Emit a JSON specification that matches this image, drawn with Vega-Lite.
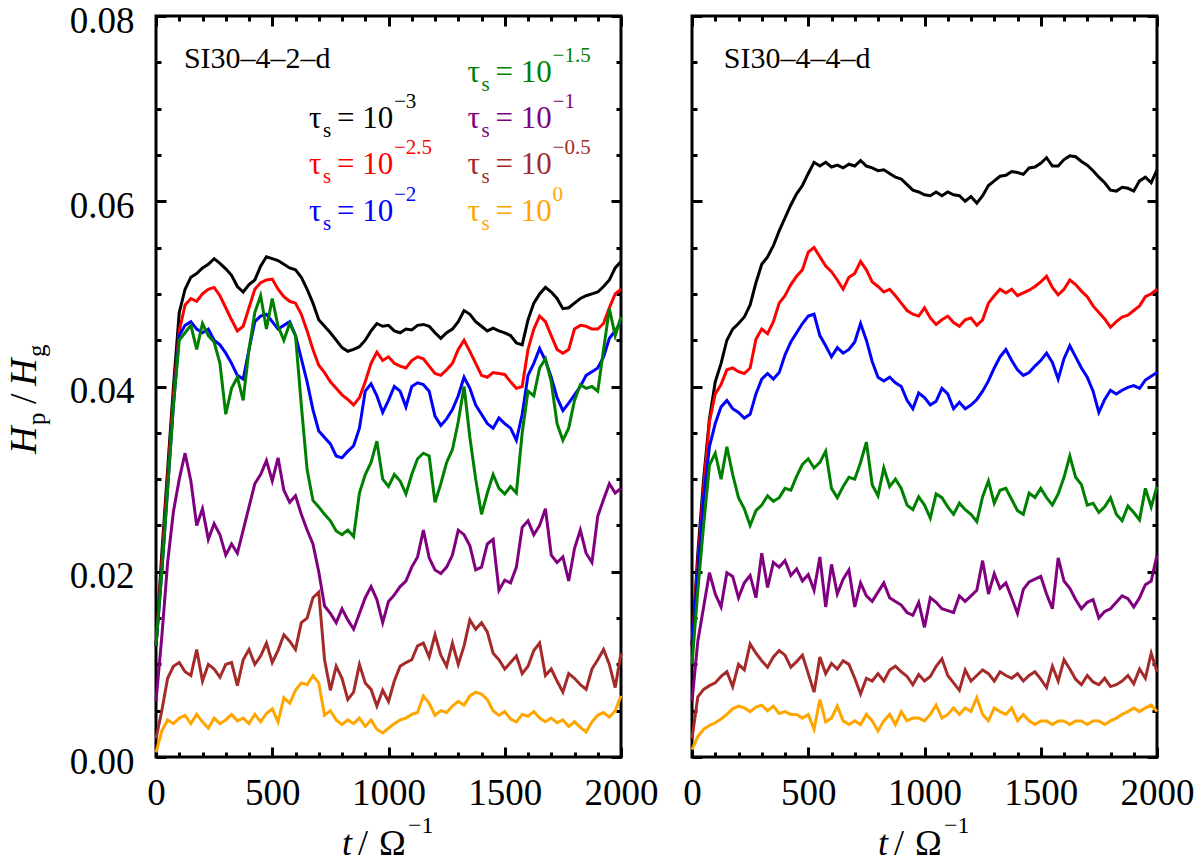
{
  "$schema": "https://vega.github.io/schema/vega-lite/v6.json",
  "description": "Particle scale height Hp/Hg versus time for two runs",
  "padding": {"left": 4, "top": 0, "right": 5, "bottom": 0},
  "background": "white",
  "config": {
    "view": {"stroke": "black", "strokeWidth": 3},
    "font": "Liberation Serif",
    "style": {"guide-label": {"font": "Liberation Serif", "fontSize": 37, "fill": "black"}},
    "axis": {
      "grid": false, "domain": false,
      "labelFont": "Liberation Serif", "labelFontSize": 37, "labelColor": "black",
      "tickColor": "black", "tickWidth": 3,
      "labelFlush": false, "labelOverlap": false
    },
    "text": {"font": "Liberation Serif", "color": "black"}
  },
  "datasets": {
    "L": [
      {"t":0,"a":0.012,"b":0.012,"c":0.012,"d":0.012,"e":0.006,"f":0.002,"g":0.0005},
      {"t":25,"a":0.022,"b":0.021,"c":0.020,"d":0.020,"e":0.013,"f":0.005,"g":0.0028},
      {"t":50,"a":0.031,"b":0.030,"c":0.029,"d":0.029,"e":0.021,"f":0.0085,"g":0.0040},
      {"t":75,"a":0.040,"b":0.039,"c":0.038,"d":0.038,"e":0.0265,"f":0.0098,"g":0.0036},
      {"t":100,"a":0.048,"b":0.046,"c":0.0455,"d":0.0450,"e":0.0300,"f":0.0102,"g":0.0042},
      {"t":125,"a":0.0505,"b":0.0488,"c":0.0466,"d":0.0458,"e":0.0328,"f":0.0092,"g":0.0045},
      {"t":150,"a":0.0518,"b":0.0495,"c":0.0470,"d":0.0466,"e":0.0298,"f":0.0088,"g":0.0036},
      {"t":175,"a":0.0522,"b":0.0492,"c":0.0462,"d":0.0440,"e":0.0250,"f":0.0116,"g":0.0046},
      {"t":200,"a":0.0528,"b":0.0500,"c":0.0458,"d":0.0468,"e":0.0268,"f":0.0082,"g":0.0038},
      {"t":225,"a":0.0532,"b":0.0505,"c":0.0462,"d":0.0455,"e":0.0235,"f":0.0100,"g":0.0031},
      {"t":250,"a":0.0538,"b":0.0507,"c":0.0450,"d":0.0448,"e":0.0252,"f":0.0095,"g":0.0042},
      {"t":275,"a":0.0533,"b":0.0498,"c":0.0445,"d":0.0425,"e":0.0240,"f":0.0086,"g":0.0036},
      {"t":300,"a":0.0527,"b":0.0485,"c":0.0436,"d":0.0370,"e":0.0218,"f":0.0100,"g":0.0040},
      {"t":325,"a":0.0520,"b":0.0472,"c":0.0425,"d":0.0398,"e":0.0230,"f":0.0102,"g":0.0046},
      {"t":350,"a":0.0508,"b":0.0460,"c":0.0412,"d":0.0410,"e":0.0220,"f":0.0077,"g":0.0039},
      {"t":375,"a":0.0502,"b":0.0465,"c":0.0408,"d":0.0385,"e":0.0245,"f":0.0105,"g":0.0042},
      {"t":400,"a":0.0510,"b":0.0485,"c":0.0440,"d":0.0440,"e":0.0270,"f":0.0116,"g":0.0036},
      {"t":425,"a":0.0515,"b":0.0505,"c":0.0470,"d":0.0480,"e":0.0295,"f":0.0100,"g":0.0046},
      {"t":450,"a":0.0530,"b":0.0512,"c":0.0476,"d":0.0498,"e":0.0305,"f":0.0109,"g":0.0038},
      {"t":475,"a":0.0540,"b":0.0515,"c":0.0478,"d":0.0462,"e":0.0320,"f":0.0123,"g":0.0047},
      {"t":500,"a":0.0538,"b":0.0516,"c":0.0470,"d":0.0495,"e":0.0298,"f":0.0102,"g":0.0052},
      {"t":525,"a":0.0536,"b":0.0505,"c":0.0462,"d":0.0465,"e":0.0323,"f":0.0115,"g":0.0038},
      {"t":550,"a":0.0532,"b":0.0497,"c":0.0466,"d":0.0450,"e":0.0288,"f":0.0132,"g":0.0064},
      {"t":575,"a":0.0528,"b":0.0492,"c":0.0470,"d":0.0468,"e":0.0275,"f":0.0125,"g":0.0058},
      {"t":600,"a":0.0526,"b":0.0490,"c":0.0455,"d":0.0455,"e":0.0282,"f":0.0116,"g":0.0072},
      {"t":625,"a":0.0518,"b":0.0478,"c":0.0430,"d":0.0380,"e":0.0262,"f":0.0145,"g":0.0080},
      {"t":650,"a":0.0505,"b":0.0460,"c":0.0405,"d":0.0310,"e":0.0245,"f":0.0150,"g":0.0078},
      {"t":675,"a":0.0490,"b":0.0440,"c":0.0375,"d":0.0277,"e":0.0230,"f":0.0172,"g":0.0088},
      {"t":700,"a":0.0472,"b":0.0423,"c":0.0352,"d":0.0270,"e":0.0200,"f":0.0178,"g":0.0080},
      {"t":725,"a":0.0465,"b":0.0415,"c":0.0345,"d":0.0262,"e":0.0163,"f":0.0105,"g":0.0045},
      {"t":750,"a":0.0458,"b":0.0405,"c":0.0338,"d":0.0255,"e":0.0155,"f":0.0072,"g":0.0050},
      {"t":775,"a":0.0450,"b":0.0398,"c":0.0325,"d":0.0244,"e":0.0145,"f":0.0098,"g":0.0040},
      {"t":800,"a":0.0442,"b":0.0391,"c":0.0323,"d":0.0240,"e":0.0160,"f":0.0085,"g":0.0035},
      {"t":825,"a":0.0438,"b":0.0386,"c":0.0330,"d":0.0245,"e":0.0148,"f":0.0062,"g":0.0040},
      {"t":850,"a":0.0440,"b":0.0380,"c":0.0336,"d":0.0238,"e":0.0138,"f":0.0070,"g":0.0036},
      {"t":875,"a":0.0443,"b":0.0388,"c":0.0355,"d":0.0285,"e":0.0155,"f":0.0100,"g":0.0042},
      {"t":900,"a":0.0450,"b":0.0405,"c":0.0395,"d":0.0305,"e":0.0172,"f":0.0080,"g":0.0033},
      {"t":925,"a":0.0460,"b":0.0425,"c":0.0403,"d":0.0318,"e":0.0184,"f":0.0073,"g":0.0040},
      {"t":950,"a":0.0468,"b":0.0437,"c":0.0390,"d":0.0341,"e":0.0170,"f":0.0055,"g":0.0030},
      {"t":975,"a":0.0465,"b":0.0428,"c":0.0372,"d":0.0300,"e":0.0145,"f":0.0072,"g":0.0026},
      {"t":1000,"a":0.0466,"b":0.0432,"c":0.0385,"d":0.0292,"e":0.0168,"f":0.0060,"g":0.0031},
      {"t":1025,"a":0.0460,"b":0.0425,"c":0.0400,"d":0.0305,"e":0.0175,"f":0.0082,"g":0.0036},
      {"t":1050,"a":0.0458,"b":0.0422,"c":0.0395,"d":0.0298,"e":0.0184,"f":0.0098,"g":0.0040},
      {"t":1075,"a":0.0462,"b":0.0420,"c":0.0378,"d":0.0284,"e":0.0190,"f":0.0102,"g":0.0042},
      {"t":1100,"a":0.0461,"b":0.0428,"c":0.0400,"d":0.0305,"e":0.0205,"f":0.0105,"g":0.0046},
      {"t":1125,"a":0.0466,"b":0.0432,"c":0.0404,"d":0.0322,"e":0.0216,"f":0.0120,"g":0.0048},
      {"t":1150,"a":0.0467,"b":0.0430,"c":0.0402,"d":0.0328,"e":0.0245,"f":0.0123,"g":0.0066},
      {"t":1175,"a":0.0465,"b":0.0422,"c":0.0395,"d":0.0325,"e":0.0215,"f":0.0108,"g":0.0058},
      {"t":1200,"a":0.0458,"b":0.0414,"c":0.0368,"d":0.0275,"e":0.0202,"f":0.0132,"g":0.0045},
      {"t":1225,"a":0.0452,"b":0.0412,"c":0.0358,"d":0.0295,"e":0.0198,"f":0.0110,"g":0.0050},
      {"t":1250,"a":0.0458,"b":0.0418,"c":0.0365,"d":0.0318,"e":0.0205,"f":0.0098,"g":0.0048},
      {"t":1275,"a":0.0462,"b":0.0425,"c":0.0375,"d":0.0332,"e":0.0218,"f":0.0123,"g":0.0055},
      {"t":1300,"a":0.0470,"b":0.0440,"c":0.0390,"d":0.0362,"e":0.0245,"f":0.0100,"g":0.0060},
      {"t":1325,"a":0.0482,"b":0.0450,"c":0.0410,"d":0.0400,"e":0.0240,"f":0.0120,"g":0.0056},
      {"t":1350,"a":0.0478,"b":0.0438,"c":0.0398,"d":0.0345,"e":0.0228,"f":0.0148,"g":0.0066},
      {"t":1375,"a":0.0470,"b":0.0425,"c":0.0380,"d":0.0300,"e":0.0202,"f":0.0138,"g":0.0070},
      {"t":1400,"a":0.0465,"b":0.0412,"c":0.0370,"d":0.0262,"e":0.0205,"f":0.0145,"g":0.0068},
      {"t":1425,"a":0.0460,"b":0.0410,"c":0.0360,"d":0.0285,"e":0.0230,"f":0.0135,"g":0.0062},
      {"t":1450,"a":0.0463,"b":0.0415,"c":0.0355,"d":0.0305,"e":0.0235,"f":0.0112,"g":0.0050},
      {"t":1475,"a":0.0460,"b":0.0414,"c":0.0366,"d":0.0290,"e":0.0180,"f":0.0105,"g":0.0045},
      {"t":1500,"a":0.0458,"b":0.0413,"c":0.0360,"d":0.0284,"e":0.0191,"f":0.0095,"g":0.0049},
      {"t":1525,"a":0.0455,"b":0.0405,"c":0.0355,"d":0.0292,"e":0.0188,"f":0.0102,"g":0.0041},
      {"t":1550,"a":0.0447,"b":0.0398,"c":0.0342,"d":0.0285,"e":0.0205,"f":0.0109,"g":0.0038},
      {"t":1575,"a":0.0445,"b":0.0400,"c":0.0370,"d":0.0350,"e":0.0248,"f":0.0090,"g":0.0046},
      {"t":1600,"a":0.0472,"b":0.0440,"c":0.0412,"d":0.0395,"e":0.0255,"f":0.0098,"g":0.0044},
      {"t":1625,"a":0.0490,"b":0.0462,"c":0.0425,"d":0.0390,"e":0.0240,"f":0.0115,"g":0.0049},
      {"t":1650,"a":0.0500,"b":0.0476,"c":0.0441,"d":0.0420,"e":0.0250,"f":0.0123,"g":0.0042},
      {"t":1675,"a":0.0507,"b":0.0470,"c":0.0428,"d":0.0430,"e":0.0268,"f":0.0088,"g":0.0038},
      {"t":1700,"a":0.0502,"b":0.0455,"c":0.0410,"d":0.0405,"e":0.0218,"f":0.0095,"g":0.0042},
      {"t":1725,"a":0.0495,"b":0.0440,"c":0.0388,"d":0.0360,"e":0.0210,"f":0.0082,"g":0.0037},
      {"t":1750,"a":0.0484,"b":0.0436,"c":0.0374,"d":0.0342,"e":0.0216,"f":0.0070,"g":0.0040},
      {"t":1775,"a":0.0485,"b":0.0440,"c":0.0382,"d":0.0355,"e":0.0190,"f":0.0090,"g":0.0033},
      {"t":1800,"a":0.0490,"b":0.0462,"c":0.0391,"d":0.0385,"e":0.0225,"f":0.0085,"g":0.0038},
      {"t":1825,"a":0.0495,"b":0.0466,"c":0.0400,"d":0.0402,"e":0.0245,"f":0.0078,"g":0.0032},
      {"t":1850,"a":0.0498,"b":0.0465,"c":0.0412,"d":0.0398,"e":0.0220,"f":0.0073,"g":0.0027},
      {"t":1875,"a":0.0500,"b":0.0462,"c":0.0416,"d":0.0400,"e":0.0210,"f":0.0095,"g":0.0038},
      {"t":1900,"a":0.0502,"b":0.0462,"c":0.0420,"d":0.0395,"e":0.0260,"f":0.0105,"g":0.0045},
      {"t":1925,"a":0.0508,"b":0.0468,"c":0.0432,"d":0.0440,"e":0.0278,"f":0.0116,"g":0.0048},
      {"t":1950,"a":0.0515,"b":0.0485,"c":0.0452,"d":0.0484,"e":0.0295,"f":0.0100,"g":0.0043},
      {"t":1975,"a":0.0528,"b":0.0500,"c":0.0460,"d":0.0455,"e":0.0285,"f":0.0075,"g":0.0050},
      {"t":2000,"a":0.0535,"b":0.0505,"c":0.0470,"d":0.0475,"e":0.0290,"f":0.0112,"g":0.0066}
    ],
    "R": [
      {"t":0,"a":0.012,"b":0.012,"c":0.012,"d":0.010,"e":0.006,"f":0.002,"g":0.0008},
      {"t":25,"a":0.022,"b":0.021,"c":0.020,"d":0.018,"e":0.0125,"f":0.0065,"g":0.0022},
      {"t":50,"a":0.030,"b":0.029,"c":0.028,"d":0.025,"e":0.0162,"f":0.0073,"g":0.0030},
      {"t":75,"a":0.0365,"b":0.0362,"c":0.0335,"d":0.0315,"e":0.0199,"f":0.0077,"g":0.0034},
      {"t":100,"a":0.0405,"b":0.0392,"c":0.0360,"d":0.0328,"e":0.0176,"f":0.0080,"g":0.0037},
      {"t":125,"a":0.0425,"b":0.0402,"c":0.0378,"d":0.0300,"e":0.0162,"f":0.0087,"g":0.0041},
      {"t":150,"a":0.0450,"b":0.0418,"c":0.0385,"d":0.0335,"e":0.0199,"f":0.0092,"g":0.0046},
      {"t":175,"a":0.0462,"b":0.0420,"c":0.0376,"d":0.0305,"e":0.0195,"f":0.0076,"g":0.0052},
      {"t":200,"a":0.0468,"b":0.0416,"c":0.0372,"d":0.0280,"e":0.0172,"f":0.0100,"g":0.0055},
      {"t":225,"a":0.0475,"b":0.0414,"c":0.0366,"d":0.0268,"e":0.0188,"f":0.0094,"g":0.0053},
      {"t":250,"a":0.0488,"b":0.0420,"c":0.0370,"d":0.0250,"e":0.0196,"f":0.0122,"g":0.0049},
      {"t":275,"a":0.0512,"b":0.0451,"c":0.0392,"d":0.0266,"e":0.0172,"f":0.0112,"g":0.0054},
      {"t":300,"a":0.0532,"b":0.0462,"c":0.0408,"d":0.0272,"e":0.0220,"f":0.0104,"g":0.0056},
      {"t":325,"a":0.0540,"b":0.0457,"c":0.0414,"d":0.0282,"e":0.0183,"f":0.0097,"g":0.0050},
      {"t":350,"a":0.0552,"b":0.0470,"c":0.0408,"d":0.0276,"e":0.0210,"f":0.0108,"g":0.0055},
      {"t":375,"a":0.0568,"b":0.0490,"c":0.0415,"d":0.0280,"e":0.0205,"f":0.0115,"g":0.0047},
      {"t":400,"a":0.0582,"b":0.0498,"c":0.0434,"d":0.0290,"e":0.0212,"f":0.0110,"g":0.0049},
      {"t":425,"a":0.0596,"b":0.0510,"c":0.0448,"d":0.0288,"e":0.0196,"f":0.0097,"g":0.0046},
      {"t":450,"a":0.0608,"b":0.0519,"c":0.0458,"d":0.0303,"e":0.0203,"f":0.0103,"g":0.0046},
      {"t":475,"a":0.0617,"b":0.0526,"c":0.0468,"d":0.0316,"e":0.0190,"f":0.0110,"g":0.0042},
      {"t":500,"a":0.0630,"b":0.0545,"c":0.0476,"d":0.0322,"e":0.0197,"f":0.0090,"g":0.0046},
      {"t":525,"a":0.0642,"b":0.0550,"c":0.0478,"d":0.0312,"e":0.0180,"f":0.0070,"g":0.0030},
      {"t":550,"a":0.0638,"b":0.0540,"c":0.0455,"d":0.0318,"e":0.0216,"f":0.0108,"g":0.0062},
      {"t":575,"a":0.0642,"b":0.0530,"c":0.0444,"d":0.0330,"e":0.0162,"f":0.0090,"g":0.0038},
      {"t":600,"a":0.0637,"b":0.0524,"c":0.0432,"d":0.0290,"e":0.0208,"f":0.0101,"g":0.0042},
      {"t":625,"a":0.0639,"b":0.0515,"c":0.0442,"d":0.0280,"e":0.0176,"f":0.0095,"g":0.0055},
      {"t":650,"a":0.0636,"b":0.0505,"c":0.0436,"d":0.0292,"e":0.0192,"f":0.0104,"g":0.0039},
      {"t":675,"a":0.0640,"b":0.0518,"c":0.0440,"d":0.0302,"e":0.0202,"f":0.0100,"g":0.0035},
      {"t":700,"a":0.0638,"b":0.0522,"c":0.0448,"d":0.0300,"e":0.0162,"f":0.0085,"g":0.0039},
      {"t":725,"a":0.0644,"b":0.0535,"c":0.0468,"d":0.0318,"e":0.0188,"f":0.0068,"g":0.0035},
      {"t":750,"a":0.0638,"b":0.0526,"c":0.0450,"d":0.0340,"e":0.0174,"f":0.0085,"g":0.0046},
      {"t":775,"a":0.0636,"b":0.0513,"c":0.0427,"d":0.0294,"e":0.0168,"f":0.0082,"g":0.0039},
      {"t":800,"a":0.0633,"b":0.0508,"c":0.0410,"d":0.0282,"e":0.0178,"f":0.0090,"g":0.0028},
      {"t":825,"a":0.0634,"b":0.0502,"c":0.0406,"d":0.0312,"e":0.0188,"f":0.0082,"g":0.0039},
      {"t":850,"a":0.0630,"b":0.0505,"c":0.0410,"d":0.0292,"e":0.0172,"f":0.0094,"g":0.0046},
      {"t":875,"a":0.0626,"b":0.0498,"c":0.0404,"d":0.0300,"e":0.0168,"f":0.0098,"g":0.0035},
      {"t":900,"a":0.0624,"b":0.0490,"c":0.0400,"d":0.0290,"e":0.0164,"f":0.0092,"g":0.0049},
      {"t":925,"a":0.0618,"b":0.0482,"c":0.0385,"d":0.0272,"e":0.0156,"f":0.0087,"g":0.0039},
      {"t":950,"a":0.0612,"b":0.0478,"c":0.0376,"d":0.0267,"e":0.0153,"f":0.0078,"g":0.0042},
      {"t":975,"a":0.0610,"b":0.0476,"c":0.0393,"d":0.0281,"e":0.0167,"f":0.0089,"g":0.0042},
      {"t":1000,"a":0.0607,"b":0.0485,"c":0.0388,"d":0.0272,"e":0.0140,"f":0.0082,"g":0.0039},
      {"t":1025,"a":0.0606,"b":0.0474,"c":0.0380,"d":0.0258,"e":0.0172,"f":0.0087,"g":0.0046},
      {"t":1050,"a":0.0610,"b":0.0467,"c":0.0384,"d":0.0284,"e":0.0167,"f":0.0098,"g":0.0056},
      {"t":1075,"a":0.0606,"b":0.0472,"c":0.0398,"d":0.0280,"e":0.0160,"f":0.0106,"g":0.0042},
      {"t":1100,"a":0.0610,"b":0.0476,"c":0.0392,"d":0.0270,"e":0.0158,"f":0.0088,"g":0.0046},
      {"t":1125,"a":0.0607,"b":0.0469,"c":0.0376,"d":0.0262,"e":0.0156,"f":0.0080,"g":0.0053},
      {"t":1150,"a":0.0606,"b":0.0465,"c":0.0383,"d":0.0274,"e":0.0174,"f":0.0072,"g":0.0046},
      {"t":1175,"a":0.0600,"b":0.0472,"c":0.0376,"d":0.0267,"e":0.0168,"f":0.0094,"g":0.0053},
      {"t":1200,"a":0.0605,"b":0.0474,"c":0.0380,"d":0.0262,"e":0.0174,"f":0.0082,"g":0.0049},
      {"t":1225,"a":0.0598,"b":0.0466,"c":0.0386,"d":0.0254,"e":0.0180,"f":0.0088,"g":0.0064},
      {"t":1250,"a":0.0606,"b":0.0472,"c":0.0395,"d":0.0281,"e":0.0212,"f":0.0094,"g":0.0046},
      {"t":1275,"a":0.0617,"b":0.0490,"c":0.0406,"d":0.0298,"e":0.0176,"f":0.0090,"g":0.0039},
      {"t":1300,"a":0.0622,"b":0.0498,"c":0.0420,"d":0.0274,"e":0.0198,"f":0.0082,"g":0.0053},
      {"t":1325,"a":0.0627,"b":0.0505,"c":0.0432,"d":0.0288,"e":0.0182,"f":0.0092,"g":0.0049},
      {"t":1350,"a":0.0628,"b":0.0501,"c":0.0440,"d":0.0290,"e":0.0188,"f":0.0088,"g":0.0046},
      {"t":1375,"a":0.0632,"b":0.0505,"c":0.0428,"d":0.0278,"e":0.0172,"f":0.0085,"g":0.0053},
      {"t":1400,"a":0.0631,"b":0.0498,"c":0.0418,"d":0.0266,"e":0.0155,"f":0.0090,"g":0.0039},
      {"t":1425,"a":0.0629,"b":0.0501,"c":0.0412,"d":0.0262,"e":0.0181,"f":0.0082,"g":0.0046},
      {"t":1450,"a":0.0636,"b":0.0504,"c":0.0415,"d":0.0285,"e":0.0189,"f":0.0088,"g":0.0039},
      {"t":1475,"a":0.0637,"b":0.0508,"c":0.0422,"d":0.0280,"e":0.0192,"f":0.0092,"g":0.0035},
      {"t":1500,"a":0.0641,"b":0.0513,"c":0.0428,"d":0.0290,"e":0.0195,"f":0.0084,"g":0.0039},
      {"t":1525,"a":0.0647,"b":0.0519,"c":0.0436,"d":0.0280,"e":0.0176,"f":0.0075,"g":0.0039},
      {"t":1550,"a":0.0638,"b":0.0507,"c":0.0426,"d":0.0272,"e":0.0160,"f":0.0098,"g":0.0035},
      {"t":1575,"a":0.0638,"b":0.0499,"c":0.0408,"d":0.0284,"e":0.0215,"f":0.0082,"g":0.0039},
      {"t":1600,"a":0.0645,"b":0.0505,"c":0.0430,"d":0.0302,"e":0.0190,"f":0.0105,"g":0.0039},
      {"t":1625,"a":0.0649,"b":0.0515,"c":0.0444,"d":0.0325,"e":0.0182,"f":0.0095,"g":0.0035},
      {"t":1650,"a":0.0648,"b":0.0510,"c":0.0432,"d":0.0302,"e":0.0170,"f":0.0084,"g":0.0039},
      {"t":1675,"a":0.0643,"b":0.0503,"c":0.0420,"d":0.0294,"e":0.0160,"f":0.0078,"g":0.0039},
      {"t":1700,"a":0.0639,"b":0.0497,"c":0.0410,"d":0.0272,"e":0.0167,"f":0.0088,"g":0.0035},
      {"t":1725,"a":0.0633,"b":0.0487,"c":0.0395,"d":0.0274,"e":0.0170,"f":0.0081,"g":0.0039},
      {"t":1750,"a":0.0626,"b":0.0480,"c":0.0372,"d":0.0264,"e":0.0150,"f":0.0078,"g":0.0039},
      {"t":1775,"a":0.0620,"b":0.0473,"c":0.0386,"d":0.0270,"e":0.0157,"f":0.0085,"g":0.0035},
      {"t":1800,"a":0.0612,"b":0.0464,"c":0.0396,"d":0.0280,"e":0.0160,"f":0.0076,"g":0.0039},
      {"t":1825,"a":0.0611,"b":0.0470,"c":0.0392,"d":0.0262,"e":0.0167,"f":0.0078,"g":0.0042},
      {"t":1850,"a":0.0615,"b":0.0475,"c":0.0396,"d":0.0255,"e":0.0174,"f":0.0082,"g":0.0046},
      {"t":1875,"a":0.0614,"b":0.0477,"c":0.0399,"d":0.0271,"e":0.0171,"f":0.0088,"g":0.0049},
      {"t":1900,"a":0.0611,"b":0.0482,"c":0.0401,"d":0.0264,"e":0.0162,"f":0.0079,"g":0.0053},
      {"t":1925,"a":0.0622,"b":0.0487,"c":0.0398,"d":0.0256,"e":0.0172,"f":0.0095,"g":0.0049},
      {"t":1950,"a":0.0626,"b":0.0497,"c":0.0407,"d":0.0290,"e":0.0186,"f":0.0085,"g":0.0053},
      {"t":1975,"a":0.0620,"b":0.0500,"c":0.0411,"d":0.0270,"e":0.0190,"f":0.0112,"g":0.0056},
      {"t":2000,"a":0.0634,"b":0.0505,"c":0.0415,"d":0.0292,"e":0.0218,"f":0.0092,"g":0.0049}
    ],
    "legend": [
      {"s":"a","t":658,"h":0.0679,"e":"−3"},
      {"s":"b","t":658,"h":0.0629,"e":"−2.5"},
      {"s":"c","t":658,"h":0.0579,"e":"−2"},
      {"s":"d","t":1340,"h":0.0729,"e":"−1.5"},
      {"s":"e","t":1340,"h":0.0679,"e":"−1"},
      {"s":"f","t":1340,"h":0.0629,"e":"−0.5"},
      {"s":"g","t":1340,"h":0.0579,"e":"0"}
    ]
  },
  "bounds": "flush",
  "spacing": 71,
  "hconcat": [
    {
      "width": 465,
      "height": 741,
      "data": {"name": "L"},
      "resolve": {"axis": {"x": "independent", "y": "independent"}},
      "layer": [
        {
          "transform": [{"fold": ["a","b","c","d","e","f","g"], "as": ["s","h"]}],
          "mark": {"type": "line", "strokeWidth": 3},
          "encoding": {
            "x": {"field": "t", "type": "quantitative", "scale": {"domain": [0, 2000], "nice": false},
                  "axis": {"orient": "bottom", "values": [0,500,1000,1500,2000], "format": "d", "ticks": false, "labelPadding": 18, "labelFont": "Liberation Serif", "labelFontSize": 37, "title": null,
                           "encode": {"labels": {"update": {"font": {"value": "Liberation Serif"}}}}}},
            "y": {"field": "h", "type": "quantitative", "scale": {"domain": [0, 0.08], "nice": false},
                  "axis": {"orient": "left", "values": [0,0.02,0.04,0.06,0.08], "format": ".2f", "ticks": false, "labelPadding": 22, "labelOffset": 5, "labelFont": "Liberation Serif", "labelFontSize": 37, "title": null,
                           "encode": {"labels": {"update": {"font": {"value": "Liberation Serif"}}}}}},
            "color": {"field": "s", "type": "nominal",
                      "scale": {"domain": ["a","b","c","d","e","f","g"], "range": ["#000000","#ff0000","#0000ff","#008000","#800080","#a52a2a","#ffa500"]},
                      "legend": null}
          }
        },
        {
          "mark": {"type": "point", "opacity": 0, "size": 1},
          "encoding": {
            "x": {"field": "t", "type": "quantitative", "scale": {"domain": [0, 2000], "nice": false},
                  "axis": {"orient": "bottom", "values": [0,500,1000,1500,2000], "labels": false, "tickSize": -10, "title": null}},
            "y": {"field": "a", "type": "quantitative", "scale": {"domain": [0, 0.08], "nice": false},
                  "axis": {"orient": "left", "values": [0,0.02,0.04,0.06,0.08], "labels": false, "tickSize": -10, "title": null}}
          }
        },
        {
          "mark": {"type": "point", "opacity": 0, "size": 1},
          "encoding": {
            "x": {"field": "t", "type": "quantitative", "scale": {"domain": [0, 2000], "nice": false},
                  "axis": {"orient": "bottom", "values": [100,200,300,400,600,700,800,900,1100,1200,1300,1400,1600,1700,1800,1900], "labels": false, "tickSize": -5, "title": null}},
            "y": {"field": "a", "type": "quantitative", "scale": {"domain": [0, 0.08], "nice": false},
                  "axis": {"orient": "left", "values": [0.005,0.01,0.015,0.025,0.03,0.035,0.045,0.05,0.055,0.065,0.07,0.075], "labels": false, "tickSize": -5, "title": null}}
          }
        },
        {
          "mark": {"type": "point", "opacity": 0, "size": 1},
          "encoding": {
            "x": {"field": "t", "type": "quantitative", "scale": {"domain": [0, 2000], "nice": false},
                  "axis": {"orient": "top", "values": [0,500,1000,1500,2000], "labels": false, "tickSize": -10, "title": null}},
            "y": {"field": "a", "type": "quantitative", "scale": {"domain": [0, 0.08], "nice": false},
                  "axis": {"orient": "right", "values": [0,0.02,0.04,0.06,0.08], "labels": false, "tickSize": -10, "title": null}}
          }
        },
        {
          "mark": {"type": "point", "opacity": 0, "size": 1},
          "encoding": {
            "x": {"field": "t", "type": "quantitative", "scale": {"domain": [0, 2000], "nice": false},
                  "axis": {"orient": "top", "values": [100,200,300,400,600,700,800,900,1100,1200,1300,1400,1600,1700,1800,1900], "labels": false, "tickSize": -5, "title": null}},
            "y": {"field": "a", "type": "quantitative", "scale": {"domain": [0, 0.08], "nice": false},
                  "axis": {"orient": "right", "values": [0.005,0.01,0.015,0.025,0.03,0.035,0.045,0.05,0.055,0.065,0.07,0.075], "labels": false, "tickSize": -5, "title": null}}
          }
        },
        {
          "data": {"values": [{}]},
          "mark": {"type": "text", "text": "SI30–4–2–d", "fontSize": 30, "align": "left", "baseline": "alphabetic"},
          "encoding": {
            "x": {"datum": 120, "type": "quantitative", "scale": {"domain": [0, 2000], "nice": false}, "axis": null},
            "y": {"datum": 0.0744, "type": "quantitative", "scale": {"domain": [0, 0.08], "nice": false}, "axis": null}
          }
        },
        {
          "data": {"name": "legend"},
          "mark": {"type": "text", "text": "τ", "fontSize": 31, "align": "left", "baseline": "alphabetic"},
          "encoding": {
            "x": {"field": "t", "type": "quantitative", "scale": {"domain": [0, 2000], "nice": false}, "axis": null},
            "y": {"field": "h", "type": "quantitative", "scale": {"domain": [0, 0.08], "nice": false}, "axis": null},
            "color": {"field": "s", "type": "nominal", "legend": null}
          }
        },
        {
          "data": {"name": "legend"},
          "mark": {"type": "text", "text": "s", "fontSize": 21, "align": "left", "baseline": "alphabetic", "dx": 14, "dy": 9},
          "encoding": {
            "x": {"field": "t", "type": "quantitative", "scale": {"domain": [0, 2000], "nice": false}, "axis": null},
            "y": {"field": "h", "type": "quantitative", "scale": {"domain": [0, 0.08], "nice": false}, "axis": null},
            "color": {"field": "s", "type": "nominal", "legend": null}
          }
        },
        {
          "data": {"name": "legend"},
          "mark": {"type": "text", "text": "= 10", "fontSize": 31, "align": "left", "baseline": "alphabetic", "dx": 28},
          "encoding": {
            "x": {"field": "t", "type": "quantitative", "scale": {"domain": [0, 2000], "nice": false}, "axis": null},
            "y": {"field": "h", "type": "quantitative", "scale": {"domain": [0, 0.08], "nice": false}, "axis": null},
            "color": {"field": "s", "type": "nominal", "legend": null}
          }
        },
        {
          "data": {"name": "legend"},
          "mark": {"type": "text", "fontSize": 21, "align": "left", "baseline": "alphabetic", "dx": 85, "dy": -20},
          "encoding": {
            "x": {"field": "t", "type": "quantitative", "scale": {"domain": [0, 2000], "nice": false}, "axis": null},
            "y": {"field": "h", "type": "quantitative", "scale": {"domain": [0, 0.08], "nice": false}, "axis": null},
            "text": {"field": "e"},
            "color": {"field": "s", "type": "nominal", "legend": null}
          }
        },
        {
          "data": {"values": [{}]},
          "mark": {"type": "text", "text": "H", "fontSize": 38, "fontStyle": "italic", "angle": 270, "align": "left", "baseline": "alphabetic"},
          "encoding": {
            "x": {"datum": -516, "type": "quantitative", "scale": {"domain": [0, 2000], "nice": false}, "axis": null},
            "y": {"datum": 0.0327, "type": "quantitative", "scale": {"domain": [0, 0.08], "nice": false}, "axis": null}
          }
        },
        {
          "data": {"values": [{}]},
          "mark": {"type": "text", "text": "p", "fontSize": 25, "angle": 270, "align": "left", "baseline": "alphabetic", "dx": 29, "dy": 9},
          "encoding": {
            "x": {"datum": -516, "type": "quantitative", "scale": {"domain": [0, 2000], "nice": false}, "axis": null},
            "y": {"datum": 0.0327, "type": "quantitative", "scale": {"domain": [0, 0.08], "nice": false}, "axis": null}
          }
        },
        {
          "data": {"values": [{}]},
          "mark": {"type": "text", "text": "/", "fontSize": 38, "angle": 270, "align": "left", "baseline": "alphabetic", "dx": 50},
          "encoding": {
            "x": {"datum": -516, "type": "quantitative", "scale": {"domain": [0, 2000], "nice": false}, "axis": null},
            "y": {"datum": 0.0327, "type": "quantitative", "scale": {"domain": [0, 0.08], "nice": false}, "axis": null}
          }
        },
        {
          "data": {"values": [{}]},
          "mark": {"type": "text", "text": "H", "fontSize": 38, "fontStyle": "italic", "angle": 270, "align": "left", "baseline": "alphabetic", "dx": 68},
          "encoding": {
            "x": {"datum": -516, "type": "quantitative", "scale": {"domain": [0, 2000], "nice": false}, "axis": null},
            "y": {"datum": 0.0327, "type": "quantitative", "scale": {"domain": [0, 0.08], "nice": false}, "axis": null}
          }
        },
        {
          "data": {"values": [{}]},
          "mark": {"type": "text", "text": "g", "fontSize": 25, "angle": 270, "align": "left", "baseline": "alphabetic", "dx": 97, "dy": 9},
          "encoding": {
            "x": {"datum": -516, "type": "quantitative", "scale": {"domain": [0, 2000], "nice": false}, "axis": null},
            "y": {"datum": 0.0327, "type": "quantitative", "scale": {"domain": [0, 0.08], "nice": false}, "axis": null}
          }
        },
        {
          "data": {"values": [{}]},
          "mark": {"type": "text", "text": "t", "fontSize": 36, "fontStyle": "italic", "align": "left", "baseline": "alphabetic"},
          "encoding": {
            "x": {"datum": 800, "type": "quantitative", "scale": {"domain": [0, 2000], "nice": false}, "axis": null},
            "y": {"datum": -0.0106, "type": "quantitative", "scale": {"domain": [0, 0.08], "nice": false}, "axis": null}
          }
        },
        {
          "data": {"values": [{}]},
          "mark": {"type": "text", "text": "/", "fontSize": 36, "align": "left", "baseline": "alphabetic", "dx": 16},
          "encoding": {
            "x": {"datum": 800, "type": "quantitative", "scale": {"domain": [0, 2000], "nice": false}, "axis": null},
            "y": {"datum": -0.0106, "type": "quantitative", "scale": {"domain": [0, 0.08], "nice": false}, "axis": null}
          }
        },
        {
          "data": {"values": [{}]},
          "mark": {"type": "text", "text": "Ω", "fontSize": 36, "align": "left", "baseline": "alphabetic", "dx": 37},
          "encoding": {
            "x": {"datum": 800, "type": "quantitative", "scale": {"domain": [0, 2000], "nice": false}, "axis": null},
            "y": {"datum": -0.0106, "type": "quantitative", "scale": {"domain": [0, 0.08], "nice": false}, "axis": null}
          }
        },
        {
          "data": {"values": [{}]},
          "mark": {"type": "text", "text": "−1", "fontSize": 24, "align": "left", "baseline": "alphabetic", "dx": 66, "dy": -22},
          "encoding": {
            "x": {"datum": 800, "type": "quantitative", "scale": {"domain": [0, 2000], "nice": false}, "axis": null},
            "y": {"datum": -0.0106, "type": "quantitative", "scale": {"domain": [0, 0.08], "nice": false}, "axis": null}
          }
        }
      ]
    },
    {
      "width": 465,
      "height": 741,
      "data": {"name": "R"},
      "resolve": {"axis": {"x": "independent", "y": "independent"}},
      "layer": [
        {
          "transform": [{"fold": ["a","b","c","d","e","f","g"], "as": ["s","h"]}],
          "mark": {"type": "line", "strokeWidth": 3},
          "encoding": {
            "x": {"field": "t", "type": "quantitative", "scale": {"domain": [0, 2000], "nice": false},
                  "axis": {"orient": "bottom", "values": [0,500,1000,1500,2000], "format": "d", "ticks": false, "labelPadding": 18, "labelFont": "Liberation Serif", "labelFontSize": 37, "title": null,
                           "encode": {"labels": {"update": {"font": {"value": "Liberation Serif"}}}}}},
            "y": {"field": "h", "type": "quantitative", "scale": {"domain": [0, 0.08], "nice": false}, "axis": null},
            "color": {"field": "s", "type": "nominal",
                      "scale": {"domain": ["a","b","c","d","e","f","g"], "range": ["#000000","#ff0000","#0000ff","#008000","#800080","#a52a2a","#ffa500"]},
                      "legend": null}
          }
        },
        {
          "mark": {"type": "point", "opacity": 0, "size": 1},
          "encoding": {
            "x": {"field": "t", "type": "quantitative", "scale": {"domain": [0, 2000], "nice": false},
                  "axis": {"orient": "bottom", "values": [0,500,1000,1500,2000], "labels": false, "tickSize": -10, "title": null}},
            "y": {"field": "a", "type": "quantitative", "scale": {"domain": [0, 0.08], "nice": false},
                  "axis": {"orient": "left", "values": [0,0.02,0.04,0.06,0.08], "labels": false, "tickSize": -10, "title": null}}
          }
        },
        {
          "mark": {"type": "point", "opacity": 0, "size": 1},
          "encoding": {
            "x": {"field": "t", "type": "quantitative", "scale": {"domain": [0, 2000], "nice": false},
                  "axis": {"orient": "bottom", "values": [100,200,300,400,600,700,800,900,1100,1200,1300,1400,1600,1700,1800,1900], "labels": false, "tickSize": -5, "title": null}},
            "y": {"field": "a", "type": "quantitative", "scale": {"domain": [0, 0.08], "nice": false},
                  "axis": {"orient": "left", "values": [0.005,0.01,0.015,0.025,0.03,0.035,0.045,0.05,0.055,0.065,0.07,0.075], "labels": false, "tickSize": -5, "title": null}}
          }
        },
        {
          "mark": {"type": "point", "opacity": 0, "size": 1},
          "encoding": {
            "x": {"field": "t", "type": "quantitative", "scale": {"domain": [0, 2000], "nice": false},
                  "axis": {"orient": "top", "values": [0,500,1000,1500,2000], "labels": false, "tickSize": -10, "title": null}},
            "y": {"field": "a", "type": "quantitative", "scale": {"domain": [0, 0.08], "nice": false},
                  "axis": {"orient": "right", "values": [0,0.02,0.04,0.06,0.08], "labels": false, "tickSize": -10, "title": null}}
          }
        },
        {
          "mark": {"type": "point", "opacity": 0, "size": 1},
          "encoding": {
            "x": {"field": "t", "type": "quantitative", "scale": {"domain": [0, 2000], "nice": false},
                  "axis": {"orient": "top", "values": [100,200,300,400,600,700,800,900,1100,1200,1300,1400,1600,1700,1800,1900], "labels": false, "tickSize": -5, "title": null}},
            "y": {"field": "a", "type": "quantitative", "scale": {"domain": [0, 0.08], "nice": false},
                  "axis": {"orient": "right", "values": [0.005,0.01,0.015,0.025,0.03,0.035,0.045,0.05,0.055,0.065,0.07,0.075], "labels": false, "tickSize": -5, "title": null}}
          }
        },
        {
          "data": {"values": [{}]},
          "mark": {"type": "text", "text": "SI30–4–4–d", "fontSize": 30, "align": "left", "baseline": "alphabetic"},
          "encoding": {
            "x": {"datum": 137, "type": "quantitative", "scale": {"domain": [0, 2000], "nice": false}, "axis": null},
            "y": {"datum": 0.0744, "type": "quantitative", "scale": {"domain": [0, 0.08], "nice": false}, "axis": null}
          }
        },
        {
          "data": {"values": [{}]},
          "mark": {"type": "text", "text": "t", "fontSize": 36, "fontStyle": "italic", "align": "left", "baseline": "alphabetic"},
          "encoding": {
            "x": {"datum": 800, "type": "quantitative", "scale": {"domain": [0, 2000], "nice": false}, "axis": null},
            "y": {"datum": -0.0106, "type": "quantitative", "scale": {"domain": [0, 0.08], "nice": false}, "axis": null}
          }
        },
        {
          "data": {"values": [{}]},
          "mark": {"type": "text", "text": "/", "fontSize": 36, "align": "left", "baseline": "alphabetic", "dx": 16},
          "encoding": {
            "x": {"datum": 800, "type": "quantitative", "scale": {"domain": [0, 2000], "nice": false}, "axis": null},
            "y": {"datum": -0.0106, "type": "quantitative", "scale": {"domain": [0, 0.08], "nice": false}, "axis": null}
          }
        },
        {
          "data": {"values": [{}]},
          "mark": {"type": "text", "text": "Ω", "fontSize": 36, "align": "left", "baseline": "alphabetic", "dx": 37},
          "encoding": {
            "x": {"datum": 800, "type": "quantitative", "scale": {"domain": [0, 2000], "nice": false}, "axis": null},
            "y": {"datum": -0.0106, "type": "quantitative", "scale": {"domain": [0, 0.08], "nice": false}, "axis": null}
          }
        },
        {
          "data": {"values": [{}]},
          "mark": {"type": "text", "text": "−1", "fontSize": 24, "align": "left", "baseline": "alphabetic", "dx": 66, "dy": -22},
          "encoding": {
            "x": {"datum": 800, "type": "quantitative", "scale": {"domain": [0, 2000], "nice": false}, "axis": null},
            "y": {"datum": -0.0106, "type": "quantitative", "scale": {"domain": [0, 0.08], "nice": false}, "axis": null}
          }
        }
      ]
    }
  ]
}
